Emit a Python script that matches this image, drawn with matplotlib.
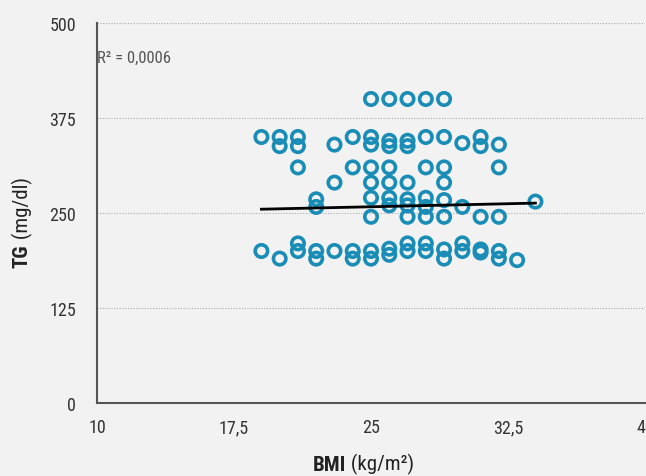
import numpy as np
import matplotlib
matplotlib.use("Agg")
import matplotlib.pyplot as plt
from matplotlib import font_manager

# BMI (x) and TG (y) values
bmi = [19, 19,
       20, 20, 20,
       21, 21, 21, 21, 21,
       22, 22, 22, 22,
       23, 23, 23,
       24, 24, 24, 24,
       25, 25, 25, 25, 25, 25, 25, 25, 25,
       26, 26, 26, 26, 26, 26, 26, 26, 26,
       27, 27, 27, 27, 27, 27, 27, 27, 27,
       28, 28, 28, 28, 28, 28, 28, 28,
       29, 29, 29, 29, 29, 29, 29, 29,
       30, 30, 30, 30,
       31, 31, 31, 31, 31,
       32, 32, 32, 32, 32,
       33,
       34]
tg = [350, 200,
      350, 338, 190,
      350, 338, 310, 210, 200,
      268, 258, 200, 190,
      340, 290, 200,
      350, 310, 200, 190,
      400, 350, 340, 310, 290, 270, 245, 200, 190,
      400, 345, 338, 310, 290, 270, 260, 203, 195,
      400, 345, 338, 290, 268, 260, 245, 210, 200,
      400, 350, 310, 270, 258, 245, 210, 200,
      400, 350, 310, 290, 267, 245, 202, 190,
      342, 258, 210, 200,
      350, 338, 245, 202, 198,
      340, 310, 245, 200, 190,
      188,
      265]

# trend line end points
trend_x = [19, 34]
trend_y = [255, 263]

xticks = [10, 17.5, 25, 32.5, 40]
xtick_labels = ["10", "17,5", "25", "32,5", "40"]
yticks = [0, 125, 250, 375, 500]

names = {f.name for f in font_manager.fontManager.ttflist}
fam = "DejaVu Sans"
for cand in ["Liberation Sans Narrow", "Roboto Condensed", "Open Sans Condensed"]:
    if cand in names:
        fam = cand
        break
plt.rcParams["font.family"] = [fam, "DejaVu Sans"]
plt.rcParams["font.stretch"] = "condensed"

bg = "#f2f2f2"
fig = plt.figure(figsize=(6.46, 4.77), dpi=100, facecolor=bg)
ax = fig.add_axes([97 / 646, 73 / 477, 548 / 646, 380 / 477], facecolor=bg)

ax.scatter(bmi, tg, s=80, facecolors="none", edgecolors="#1a8db6",
           linewidths=2.6, zorder=3)
ax.plot(trend_x, trend_y, color="black", lw=2, zorder=4)

ax.set_xlim(10, 40)
ax.set_ylim(0, 500)
ax.set_xticks(xticks)
ax.set_xticklabels(xtick_labels)
ax.set_yticks(yticks)
ax.tick_params(length=0, labelsize=13, colors="#333333")
ax.tick_params(axis="x", pad=11)
ax.tick_params(axis="y", pad=15)
ax.yaxis.grid(True, linestyle=(0, (1, 1.5)), color="#aaaaaa", lw=0.8)
ax.set_axisbelow(True)
for s in ["top", "right"]:
    ax.spines[s].set_visible(False)
for s in ["left", "bottom"]:
    ax.spines[s].set_color("#555555")
    ax.spines[s].set_linewidth(1.5)

ax.text(10, 455, "R² = 0,0006", fontsize=12, color="#555555", va="center")

# axis titles: bold part + regular part
t1 = fig.text(313 / 646, 6 / 477, "BMI", fontsize=15, fontweight="bold",
              color="#222222", va="baseline")
ax.annotate(" (kg/m²)", xy=(1, 0), xycoords=t1, fontsize=15,
            color="#222222", va="bottom")
t2 = fig.text(12 / 646, 1 - 268 / 477, "TG", fontsize=15, fontweight="bold",
              color="#222222", rotation=90, ha="left", va="bottom")
ax.annotate(" (mg/dl)", xy=(0, 1), xycoords=t2, fontsize=15,
            color="#222222", rotation=90, ha="left", va="bottom")

fig.savefig("out.png", dpi=100, facecolor=bg)
